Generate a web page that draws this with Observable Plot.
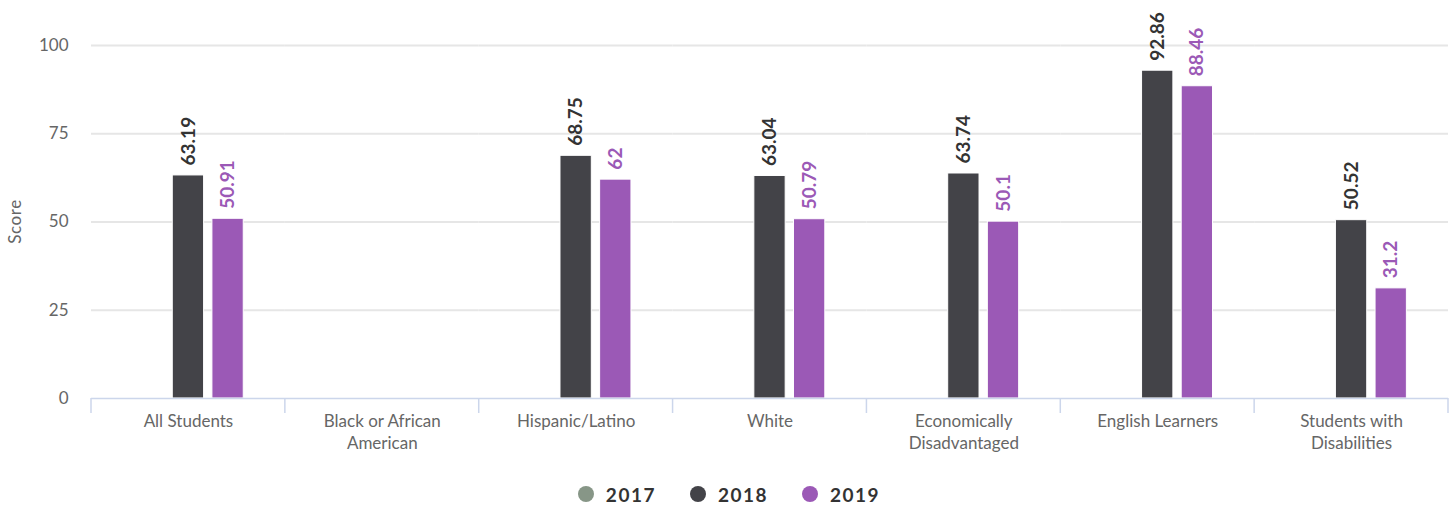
<!DOCTYPE html>
<html>
<head>
<meta charset="utf-8">
<script src="https://cdn.jsdelivr.net/npm/d3@7"></script>
<script src="https://cdn.jsdelivr.net/npm/@observablehq/plot@0.6"></script>
<style>
  html, body { margin: 0; padding: 0; background: #fff; }
  body { width: 1456px; height: 510px; overflow: hidden; font-family: Lato, "Open Sans", sans-serif; }
  #legend { height: 44px; margin-top: 6px; display: flex; justify-content: center; align-items: center; padding-left: 2px; }
  .item { display: flex; align-items: center; margin: 0 17px; font-weight: bold; font-size: 19px; color: #333; letter-spacing: 1.5px; }
  .dot { width: 16px; height: 16px; border-radius: 50%; margin-right: 12px; }
  svg text.ytitle { font-size: 17px; letter-spacing: 0.6px; }
</style>
</head>
<body>
<div id="chart"></div>
<div id="legend"></div>
<script>
const categories = ["All Students", "Black or African American", "Hispanic/Latino", "White", "Economically Disadvantaged", "English Learners", "Students with Disabilities"];
const categoryLabels = ["All Students", "Black or African\nAmerican", "Hispanic/Latino", "White", "Economically\nDisadvantaged", "English Learners", "Students with\nDisabilities"];
const years = ["2017", "2018", "2019"];
const colors = ["#879687", "#434348", "#9b59b6"];
const labelColors = ["#879687", "#333333", "#9b59b6"];
const values2017 = [null, null, null, null, null, null, null];
const values2018 = [63.19, null, 68.75, 63.04, 63.74, 92.86, 50.52];
const values2019 = [50.91, null, 62, 50.79, 50.1, 88.46, 31.2];
const yTicks = [0, 25, 50, 75, 100];

const series = [values2017, values2018, values2019];
const data = [];
categories.forEach((c, i) => {
  years.forEach((y, j) => {
    data.push({category: c, year: y, value: series[j][i]});
  });
});
const labelMap = new Map(categories.map((c, i) => [c, categoryLabels[i]]));
const labelColorMap = new Map(years.map((y, i) => [y, labelColors[i]]));

const plot = Plot.plot({
  width: 1456,
  height: 466,
  marginLeft: 91,
  marginRight: 8,
  marginTop: 45,
  marginBottom: 68,
  style: {fontFamily: "Lato, 'Open Sans', sans-serif", background: "#fff"},
  fx: {domain: categories, padding: 0, round: false},
  x: {domain: years, paddingInner: 0.21, paddingOuter: 1.05, round: false, axis: null},
  y: {domain: [0, 100]},
  color: {domain: years, range: colors},
  marks: [
    Plot.gridY(yTicks.filter(t => t > 0), {stroke: "#e6e6e6", strokeOpacity: 1, strokeWidth: 2}),
    Plot.axisY(yTicks, {facetAnchor: "left", tickSize: 0, tickPadding: 23, fontSize: 17, color: "#666", label: null}),
    Plot.axisFx({anchor: "bottom", tickSize: 0, tickPadding: 13, fontSize: 17, color: "#666", label: null, lineHeight: 1.3, tickFormat: d => labelMap.get(d)}),
    Plot.barY(data, {fx: "category", x: "year", y: "value", fill: "year", stroke: "#fff", strokeWidth: 1}),
    Plot.ruleY([0], {stroke: "#ccd6eb", strokeWidth: 1.5}),
    Plot.text(data, {filter: d => d.value != null, fx: "category", x: "year", y: "value", text: d => String(d.value), rotate: -90, textAnchor: "start", dy: -10, fill: d => labelColorMap.get(d.year), fontWeight: "bold", fontSize: 19})
  ]
});
document.getElementById("chart").appendChild(plot);

// band boundary ticks under the axis and the y-axis title, positioned via the plot's scales
const fx = plot.scale("fx");
const y = plot.scale("y");
const bounds = categories.map(c => fx.apply(c)).concat([fx.apply(categories[categories.length - 1]) + fx.bandwidth]);
const y0 = y.apply(0);
const svg = d3.select(plot);
svg.append("g")
  .attr("stroke", "#ccd6eb").attr("stroke-width", 1.5)
  .selectAll("line").data(bounds).join("line")
  .attr("x1", d => d).attr("x2", d => d)
  .attr("y1", y0).attr("y2", y0 + 15);
const yMid = (y.apply(0) + y.apply(100)) / 2;
svg.append("text")
  .attr("class", "ytitle")
  .attr("transform", `translate(15,${yMid}) rotate(-90)`)
  .attr("text-anchor", "middle").attr("dy", "0.35em")
  .attr("fill", "#666").attr("font-size", 17)
  .text("Score");

const legend = d3.select("#legend");
years.forEach((yr, i) => {
  const it = legend.append("div").attr("class", "item");
  it.append("div").attr("class", "dot").style("background", colors[i]);
  it.append("span").text(yr);
});
</script>
</body>
</html>
